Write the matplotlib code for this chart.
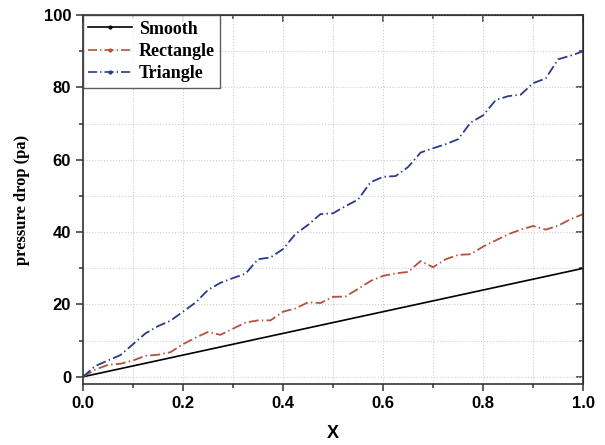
import numpy as np
import matplotlib.pyplot as plt
from matplotlib.lines import Line2D
from matplotlib.ticker import MultipleLocator

# x positions of the sampled points
x = [i * 0.025 for i in range(41)]

smooth = [0.75 * i for i in range(41)]

rectangle = [0, 2, 3.3, 3.6, 4.5, 5.8, 6.1, 6.8, 9, 10.8,
             12.4, 11.6, 13.3, 15, 15.6, 15.6, 18, 18.9, 20.6, 20.4,
             22.1, 22.2, 24.3, 26.5, 27.9, 28.6, 29, 32, 30.3, 32.5,
             33.7, 33.9, 36, 37.7, 39.4, 40.7, 41.7, 40.7, 41.8, 43.6,
             45]

triangle = [0, 3, 4.5, 6, 9, 12, 14, 15.5, 18, 20.5,
            24, 26, 27.3, 28.5, 32.5, 33, 35.3, 39.5, 42, 45,
            45.2, 47.2, 49, 53.8, 55.3, 55.5, 58, 62, 63.2, 64.3,
            65.7, 70.3, 72.3, 76.5, 77.6, 78, 81.2, 82.5, 87.8, 88.8,
            90]

labels = ["Smooth", "Rectangle", "Triangle"]
colors = ["black", "#b5523b", "#2b3a8c"]

fig = plt.figure(figsize=(6.05, 4.45), dpi=100)
ax = fig.add_axes([0.137, 0.137, 0.827, 0.829])

dashdot = (0, (5.5, 1.8, 0.8, 1.8))
ax.plot(x, smooth, color=colors[0], lw=1.2, ls="-")
ax.plot(x, rectangle, color=colors[1], lw=1.3, ls=dashdot)
ax.plot(x, triangle, color=colors[2], lw=1.3, ls=dashdot)

ax.set_xlim(0, 1.0)
ax.set_ylim(-2, 100)
ax.xaxis.set_major_locator(MultipleLocator(0.2))
ax.xaxis.set_minor_locator(MultipleLocator(0.1))
ax.yaxis.set_major_locator(MultipleLocator(20))
ax.yaxis.set_minor_locator(MultipleLocator(10))
ax.grid(which="both", ls=":", color="#cfcfcf", lw=0.8)
ax.set_axisbelow(True)

ax.tick_params(which="both", direction="out", width=1.1, colors="#333333",
               labelcolor="black")
ax.tick_params(which="major", length=5)
ax.tick_params(which="minor", length=3)
ax.set_xticks([0, 0.2, 0.4, 0.6, 0.8, 1.0])
ax.set_xticklabels(["0.0", "0.2", "0.4", "0.6", "0.8", "1.0"],
                   family="Liberation Sans", fontweight="bold", fontsize=12)
ax.set_yticks([0, 20, 40, 60, 80, 100])
ax.set_yticklabels(["0", "20", "40", "60", "80", "100"],
                   family="Liberation Sans", fontweight="bold", fontsize=12)

for s in ax.spines.values():
    s.set_linewidth(1.2)
    s.set_color("#333333")

# mirrored inward ticks on top and right
top = ax.secondary_xaxis("top")
top.xaxis.set_major_locator(MultipleLocator(0.2))
top.xaxis.set_minor_locator(MultipleLocator(0.1))
top.tick_params(which="both", direction="in", labeltop=False, width=1.1, colors="#333333")
top.tick_params(which="major", length=5)
top.tick_params(which="minor", length=3)
right = ax.secondary_yaxis("right")
right.yaxis.set_major_locator(MultipleLocator(20))
right.yaxis.set_minor_locator(MultipleLocator(10))
right.tick_params(which="both", direction="in", labelright=False, width=1.1, colors="#333333")
right.tick_params(which="major", length=5)
right.tick_params(which="minor", length=3)

ax.set_xlabel("X", family="Liberation Sans", fontweight="bold", fontsize=13, labelpad=10)
ax.set_ylabel("pressure drop (pa)", family="Liberation Serif", fontweight="bold",
              fontsize=12, labelpad=10)

handles = [
    Line2D([], [], color=colors[0], lw=1.2, ls="-", marker=".", ms=4),
    Line2D([], [], color=colors[1], lw=1.2, ls=dashdot, marker=".", ms=4),
    Line2D([], [], color=colors[2], lw=1.2, ls=dashdot, marker=".", ms=4),
]
leg = ax.legend(handles, labels, loc="upper left", borderaxespad=0, numpoints=1,
                prop={"family": "Liberation Serif", "weight": "bold", "size": 13},
                frameon=True, fancybox=False, handlelength=2.4, handletextpad=0.4,
                labelspacing=0.3, borderpad=0.3)
leg.get_frame().set_edgecolor("#333333")
leg.get_frame().set_linewidth(1.0)

fig.savefig("out.png", dpi=100)
